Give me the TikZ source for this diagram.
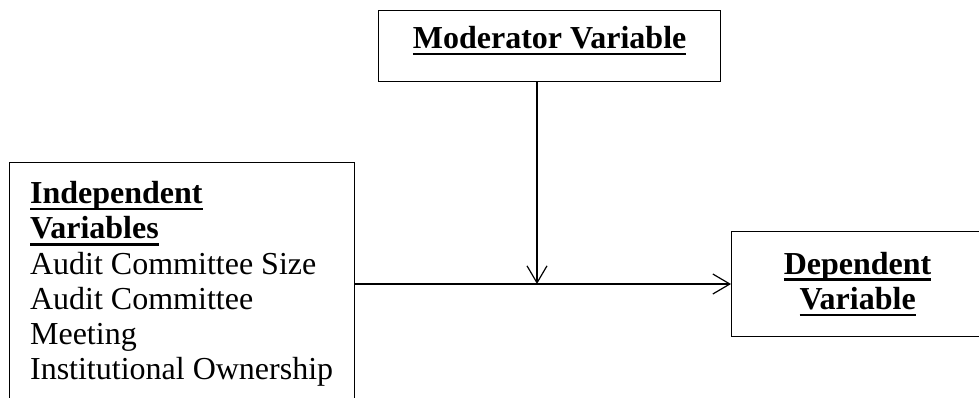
\documentclass[tikz,border=0pt]{standalone}
\usepackage{fontspec}
\setmainfont{Liberation Serif}
\usetikzlibrary{arrows.meta,positioning,calc}

% bold text with a heavy underline
\newcommand\ulbf[1]{\leavevmode\setbox0\hbox{\bfseries #1}\rlap{\rule[-3.4pt]{\wd0}{1.3pt}}\box0}

\begin{document}
\begin{tikzpicture}[x=0.5pt,y=-0.5pt]
	\tikzset{
	  basic/.style    = {draw, rectangle, line width=0.6pt,
	                     font=\fontsize{16}{17.6}\selectfont},
	  modbox/.style   = {basic, align=center, inner sep=0pt, minimum width=171pt,
	                     text height=19pt, text depth=16.5pt},
	  indepbox/.style = {basic, align=flush left, text width=152pt, inner xsep=10.25pt,
	                     inner ysep=8.5pt, text height=12pt, text depth=110pt},
	  depbox/.style   = {basic, align=center, minimum width=126pt,
	                     minimum height=52.5pt},
	  link/.style     = {line width=0.6pt, -{Straight Barb[length=8.5pt,width=10pt]}}
	}
	\useasboundingbox (0,0) rectangle (979,397);
	\clip (0,0) rectangle (979,397);

	\node[modbox, anchor=north west] (mod) at (378,10) {\ulbf{Moderator Variable}};
	\node[indepbox, anchor=north west] (indep) at (9,162)
	  {\hyphenpenalty=10000 \hfuzz=2pt
	   \ulbf{Independent}\\ \ulbf{Variables}\\ Audit Committee Size\\
	   Audit Committee\\ Meeting\\ Institutional Ownership};
	\node[depbox, anchor=north west] (dep) at (731,231)
	  {\ulbf{Dependent}\\ \ulbf{Variable}};

	% where the moderator meets the main path
	\coordinate (junc) at (537,284);
	\draw[link] (indep.east |- junc) -- (dep.west |- junc);
	\draw[link] (mod.south -| junc) -- (junc);
\end{tikzpicture}
\end{document}
